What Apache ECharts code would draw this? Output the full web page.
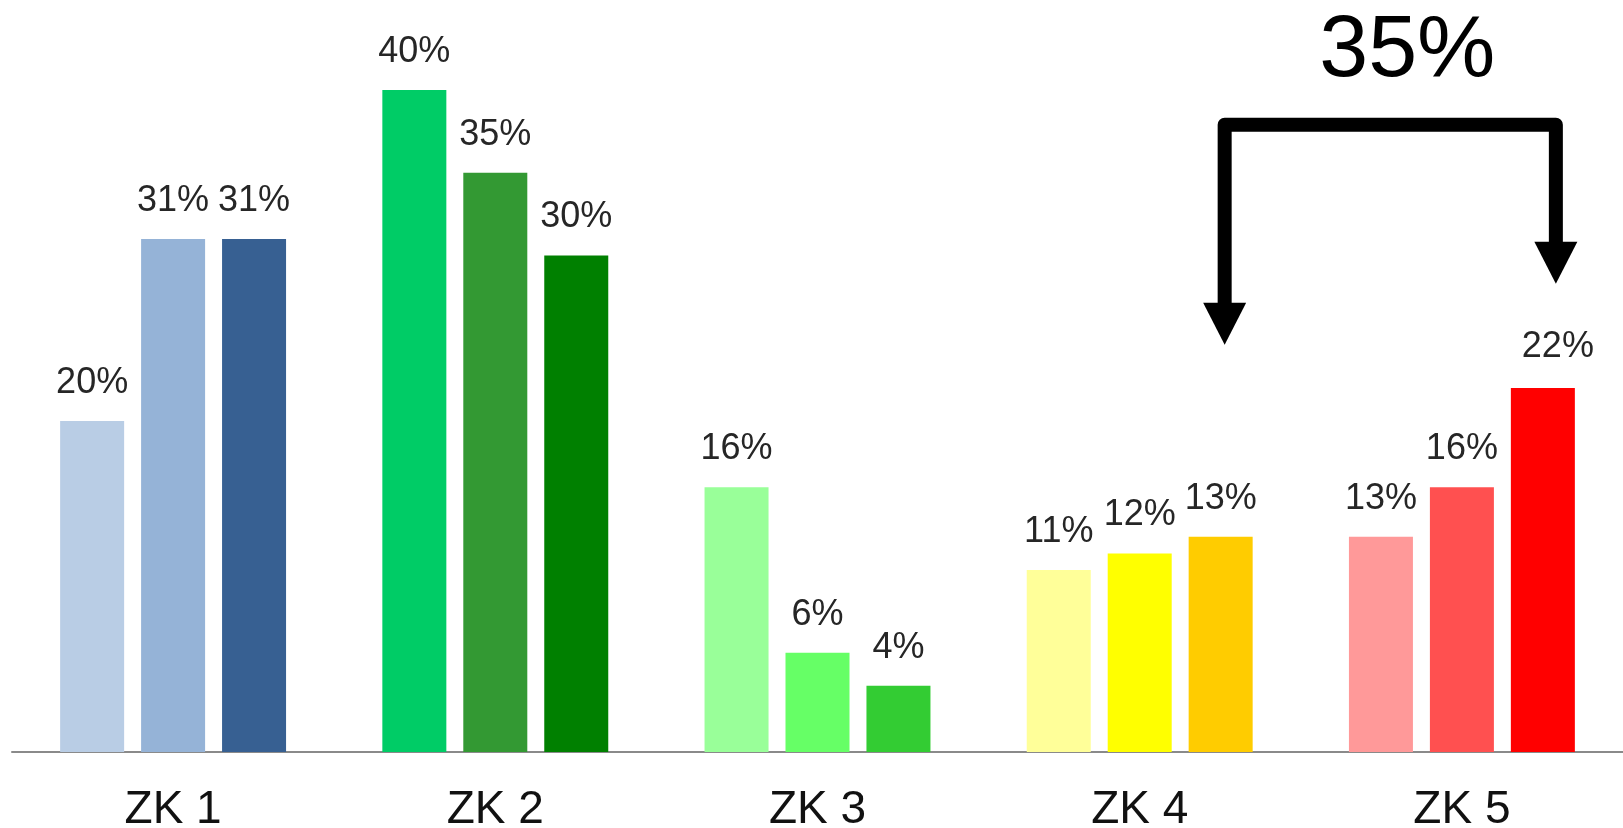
<!DOCTYPE html>
<html><head><meta charset="utf-8">
<script src="https://cdn.jsdelivr.net/npm/echarts@6/dist/echarts.min.js"></script>
<style>html,body{margin:0;padding:0;background:#fff}#c{width:1623px;height:828px}</style>
</head><body><div id="c"></div>
<script>
// ---- data ----
const categories = ['ZK 1', 'ZK 2', 'ZK 3', 'ZK 4', 'ZK 5'];
const values1 = [20, 40, 16, 11, 13];
const values2 = [31, 35, 6, 12, 16];
const values3 = [31, 30, 4, 13, 22];
const colors1 = ['#B9CDE5', '#00CC66', '#99FF99', '#FFFF99', '#FF9999'];
const colors2 = ['#95B3D7', '#339933', '#66FF66', '#FFFF00', '#FF5050'];
const colors3 = ['#376092', '#008000', '#33CC33', '#FFCC00', '#FF0000'];
const annotationText = '35%';

const FONT = '"Liberation Sans", Arial, sans-serif';

function buildSeries(vals, cols, idx) {
  return {
    type: 'bar',
    barWidth: 64,
    barGap: '26.5%',
    animation: false,
    data: vals.map((v, i) => {
      const d = { value: v, itemStyle: { color: cols[i] } };
      if (idx === 2 && i === 4) d.label = { offset: [15, -3] };
      return d;
    }),
    label: {
      show: true,
      position: 'top',
      distance: 20,
      formatter: '{c}%',
      fontFamily: FONT,
      fontSize: 36,
      color: '#262626'
    }
  };
}

const chart = echarts.init(document.getElementById('c'), null, { renderer: 'canvas' });
chart.setOption({
  animation: false,
  backgroundColor: '#ffffff',
  grid: { left: 12, right: 0, top: 7.25, bottom: 76, containLabel: false, outerBoundsMode: 'none' },
  xAxis: {
    type: 'category',
    data: categories,
    axisLine: { show: true, lineStyle: { color: '#8a8a8a', width: 2 } },
    axisTick: { show: false },
    axisLabel: { fontFamily: FONT, fontSize: 46, color: '#111111', margin: 35 },
    splitLine: { show: false }
  },
  yAxis: { type: 'value', min: 0, max: 45, show: false, splitLine: { show: false } },
  series: [
    buildSeries(values1, colors1, 0),
    buildSeries(values2, colors2, 1),
    buildSeries(values3, colors3, 2)
  ]
});

// ---- annotation arrow, anchored to bar layouts ----
function barCenterX(seriesIdx, dataIdx) {
  const lay = chart.getModel().getSeriesByIndex(seriesIdx).getData().getItemLayout(dataIdx);
  return lay.x + lay.width / 2;
}
function yPix(v) { return chart.convertToPixel({ yAxisIndex: 0 }, v); }

const leftX = barCenterX(2, 3) + 4;
const rightX = barCenterX(2, 4) + 13;
const topY = yPix(37.9);
const leftTip = yPix(24.6);
const rightTip = yPix(28.3);
const headH = 42, headW = 43;
const textY = yPix(42.3);

chart.setOption({
  graphic: [
    {
      type: 'polyline',
      shape: { points: [[leftX, leftTip - headH + 2], [leftX, topY], [rightX, topY], [rightX, rightTip - headH + 2]] },
      style: { stroke: '#000', lineWidth: 14, fill: null, lineJoin: 'round' },
      z: 100
    },
    {
      type: 'polygon',
      shape: { points: [[leftX - headW / 2, leftTip - headH], [leftX + headW / 2, leftTip - headH], [leftX, leftTip]] },
      style: { fill: '#000' },
      z: 100
    },
    {
      type: 'polygon',
      shape: { points: [[rightX - headW / 2, rightTip - headH], [rightX + headW / 2, rightTip - headH], [rightX, rightTip]] },
      style: { fill: '#000' },
      z: 100
    },
    {
      type: 'text',
      style: {
        text: annotationText,
        x: (leftX + rightX) / 2 + 17,
        y: textY,
        font: '88px ' + FONT,
        fill: '#000',
        textAlign: 'center', align: 'center',
        textVerticalAlign: 'middle', verticalAlign: 'middle'
      },
      z: 100
    }
  ]
});
</script>
</body></html>
